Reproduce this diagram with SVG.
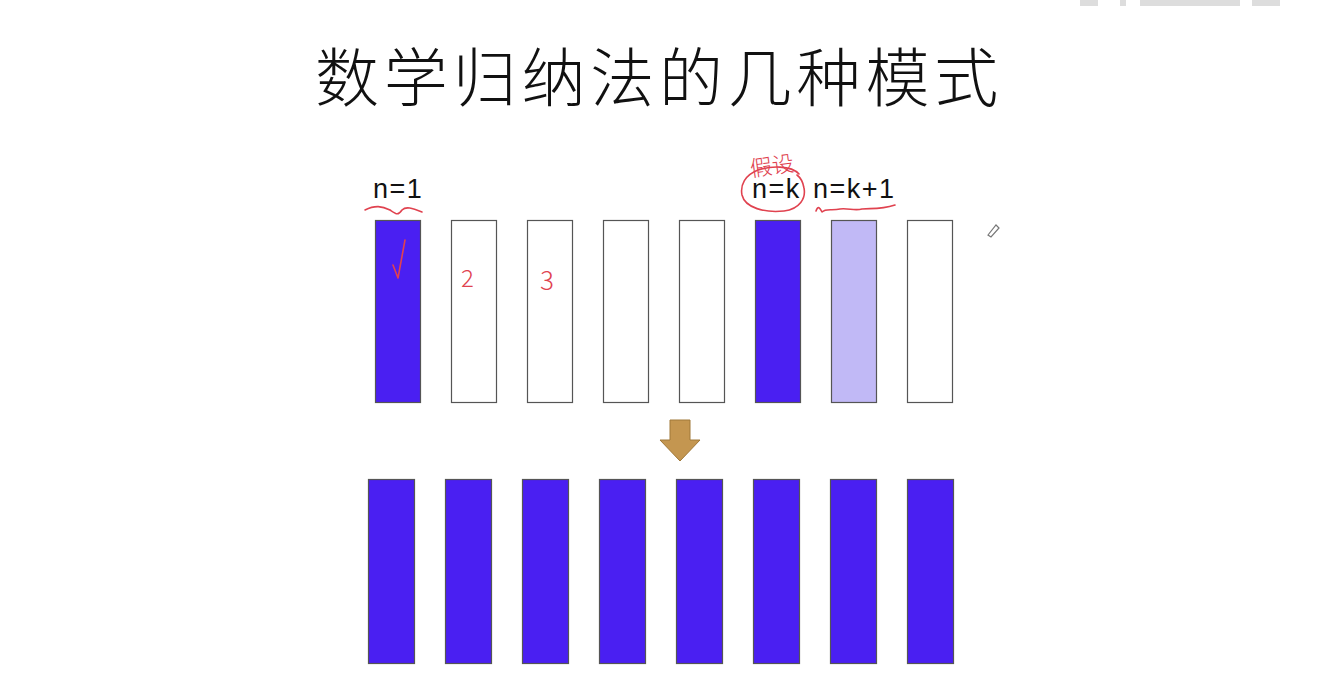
<svg xmlns="http://www.w3.org/2000/svg" width="1322" height="694" viewBox="0 0 1322 694">
<style>
.bar{stroke:#555;stroke-width:1.2}
.dark{fill:#4a1ff2}
.light{fill:#c1b9f6}
.empty{fill:#fff}
.lbl{font-family:"Liberation Sans",Arial,sans-serif;font-size:27px;letter-spacing:1.5px;fill:#111}
.red{fill:none;stroke:#e0424f;stroke-width:1.6;stroke-linecap:round;stroke-linejoin:round}
.redt{font-family:"Noto Sans CJK SC",sans-serif;font-weight:300;fill:#e0424f}
</style>
<rect width="1322" height="694" fill="#fff"/>
<g id="watermark" fill="#ddd">
<rect x="1080" y="0" width="18" height="6"/><rect x="1120" y="0" width="6" height="6"/><rect x="1140" y="0" width="100" height="6"/><rect x="1252" y="0" width="28" height="6"/>
</g>
<g id="title">
<text x="659" y="101" text-anchor="middle" font-family="'Noto Sans CJK SC',sans-serif" font-weight="300" font-size="64" letter-spacing="4.8" fill="#111">数学归纳法的几种模式</text>
</g>
<g id="top-row">
<rect id="t1" class="bar dark" x="375.5" y="220.5" width="45" height="182"/>
<rect id="t2" class="bar empty" x="451.5" y="220.5" width="45" height="182"/>
<rect id="t3" class="bar empty" x="527.5" y="220.5" width="45" height="182"/>
<rect id="t4" class="bar empty" x="603.5" y="220.5" width="45" height="182"/>
<rect id="t5" class="bar empty" x="679.5" y="220.5" width="45" height="182"/>
<rect id="t6" class="bar dark" x="755.5" y="220.5" width="45" height="182"/>
<rect id="t7" class="bar light" x="831.5" y="220.5" width="45" height="182"/>
<rect id="t8" class="bar empty" x="907.5" y="220.5" width="45" height="182"/>
</g>
<g id="labels">
<text class="lbl" x="373" y="198">n=1</text>
<text class="lbl" x="752" y="198">n=k</text>
<text class="lbl" x="813" y="198">n=k+1</text>
</g>
<g id="annotations">
<path class="red" d="M365,210 C375,205 382,206 390,210 C396,214 398,216 402,210 C406,206 412,208 422,212"/>
<path class="red" d="M799,174 C791,165 770,166 758,170 C745,175 740,185 742,195 C745,208 765,213 784,211 C800,209 806,198 804,188 C803,182 801,178 797,175"/>
<path class="red" d="M816,211 C818,205 820,208 822,212 C826,208 832,211 840,209 C848,208 855,211 862,209 C870,208 880,210 895,205"/>
<text class="redt" x="750" y="174" font-size="22" transform="rotate(-8 770 166)">假设</text>
<path class="red" d="M393,265 L398,278 L405,240"/>
<text class="redt" x="461" y="287" font-size="24">2</text>
<text class="redt" x="540" y="290" font-size="26">3</text>
</g>
<g id="pencil">
<path d="M988,235 L996,225 L999,228 L991,237 Z" fill="none" stroke="#777" stroke-width="1.2"/>
</g>
<g id="connectors">
<path d="M670,420 H690 V440 H700 L680,461 L660,440 H670 Z" fill="#c49650" stroke="#a07838" stroke-width="1"/>
</g>
<g id="bottom-row">
<rect id="b1" class="bar dark" x="368.5" y="479.5" width="46" height="184"/>
<rect id="b2" class="bar dark" x="445.5" y="479.5" width="46" height="184"/>
<rect id="b3" class="bar dark" x="522.5" y="479.5" width="46" height="184"/>
<rect id="b4" class="bar dark" x="599.5" y="479.5" width="46" height="184"/>
<rect id="b5" class="bar dark" x="676.5" y="479.5" width="46" height="184"/>
<rect id="b6" class="bar dark" x="753.5" y="479.5" width="46" height="184"/>
<rect id="b7" class="bar dark" x="830.5" y="479.5" width="46" height="184"/>
<rect id="b8" class="bar dark" x="907.5" y="479.5" width="46" height="184"/>
</g>
</svg>
